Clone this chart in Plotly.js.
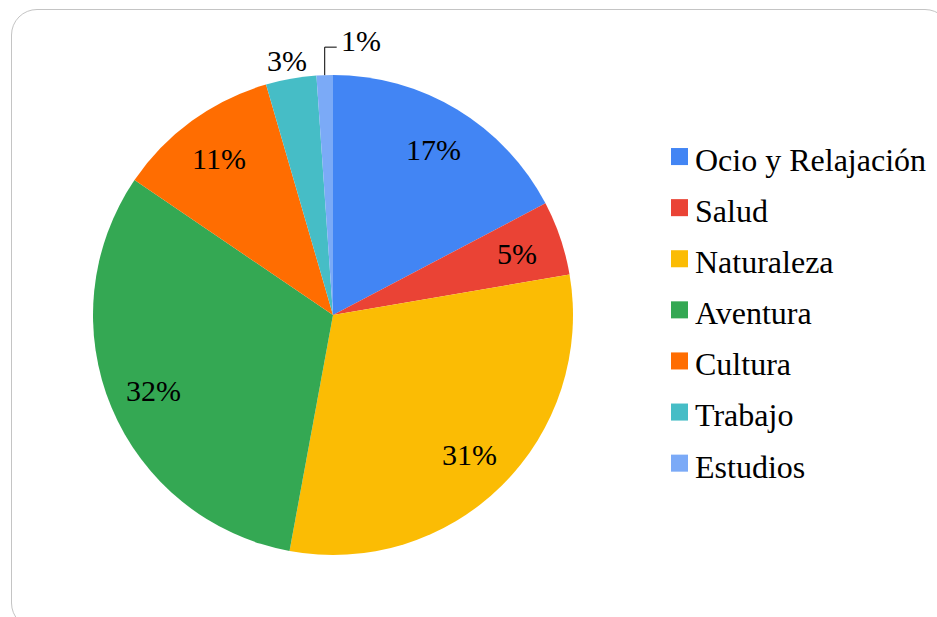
<!DOCTYPE html>
<html>
<head>
<meta charset="utf-8">
<script src="https://cdn.plot.ly/plotly-3.0.1.min.js"></script>
<style>
html,body{margin:0;padding:0;background:#fff;overflow:hidden;}
#chart{width:937px;height:617px;position:absolute;left:0;top:0;}
#frame{position:absolute;left:11px;top:9px;width:940px;height:620px;border:1px solid #c4c4c4;border-radius:26px;pointer-events:none;box-sizing:border-box;}
</style>
</head>
<body>
<div id="chart"></div>
<div id="frame"></div>
<script>
const categories = ["Ocio y Relajación","Salud","Naturaleza","Aventura","Cultura","Trabajo","Estudios"];
const values = [17.3, 5.0, 30.6, 31.6, 11.0, 3.4, 1.1];
const colors = ["#4285F4","#EA4335","#FBBC04","#34A853","#FF6D01","#46BDC6","#7BAAF7"];
const labelOutside = [false, false, false, false, false, true, true];
const labelLeader = [false, false, false, false, false, false, true];

const W = 937, H = 617;
const cx = 333, cy = 315, R = 240;
const FONT = "Times New Roman";

const trace = {
  type: "pie",
  labels: categories.map(c => '<span style="font-size:32px">' + c + '</span>'),
  values: values,
  marker: {colors: colors, line: {color: "#ffffff", width: 0}},
  sort: false,
  direction: "clockwise",
  rotation: 0,
  textinfo: "none",
  hoverinfo: "label+percent",
  domain: {x: [(cx - R) / W, (cx + R) / W], y: [1 - (cy + R) / H, 1 - (cy - R) / H]},
  automargin: false
};

// percentage labels placed from the data (mid-angle of each slice)
const total = values.reduce((a, b) => a + b, 0);
const annotations = [];
const shapes = [];
let cum = 0;
values.forEach((v, i) => {
  const frac = v / total;
  const mid = (cum + frac / 2) * 2 * Math.PI;
  cum += frac;
  const txt = Math.round(frac * 100) + "%";
  const px = (r, a) => cx + r * Math.sin(a);
  const py = (r, a) => cy - r * Math.cos(a);
  const f = {family: FONT, size: 30, color: "#000000"};
  if (!labelOutside[i] || !labelLeader[i]) {
    const r = labelOutside[i] ? R + 20 : 0.81 * R;
    annotations.push({x: px(r, mid) / W, y: 1 - (py(r, mid) + 1) / H, xref: "paper", yref: "paper",
      xanchor: "center", yanchor: "middle",
      text: txt, showarrow: false, font: f});
  } else {
    const x0 = px(R, mid), y0 = py(R, mid);
    const yTop = y0 - 28, x1 = x0 + 12;
    shapes.push({type: "path", xref: "paper", yref: "paper",
      path: "M" + (x0 / W) + "," + (1 - y0 / H) + " L" + (x0 / W) + "," + (1 - yTop / H) + " L" + (x1 / W) + "," + (1 - yTop / H),
      line: {color: "#000", width: 1}});
    annotations.push({x: (x1 + 2) / W, y: 1 - (yTop - 7) / H, xref: "paper", yref: "paper",
      xanchor: "left", yanchor: "middle", text: txt, showarrow: false, font: f});
  }
});

const layout = {
  width: W, height: H,
  margin: {l: 0, r: 0, t: 0, b: 0},
  paper_bgcolor: "rgba(0,0,0,0)",
  plot_bgcolor: "rgba(0,0,0,0)",
  showlegend: true,
  legend: {
    x: 655 / W, xanchor: "left",
    y: 1 - 126 / H, yanchor: "top",
    font: {family: FONT, size: 37, color: "#000000"},
    bgcolor: "rgba(0,0,0,0)",
    borderwidth: 0,
    traceorder: "normal"
  },
  font: {family: FONT, color: "#000000"},
  annotations: annotations,
  shapes: shapes
};

Plotly.newPlot("chart", [trace], layout, {displayModeBar: false, staticPlot: true}).then(() => {
  document.querySelectorAll("#chart .legendpoints path").forEach(p => {
    const t = p.getAttribute("transform") || "";
    const m = t.match(/translate\(\s*([-\d.]+)[ ,]+([-\d.]+)\s*\)/);
    const tx = m ? parseFloat(m[1]) : 20, ty = m ? parseFloat(m[2]) : 0;
    p.setAttribute("transform", "translate(" + (tx + 4.5) + "," + ty + ") scale(1.42)");
  });
});
</script>
</body>
</html>
